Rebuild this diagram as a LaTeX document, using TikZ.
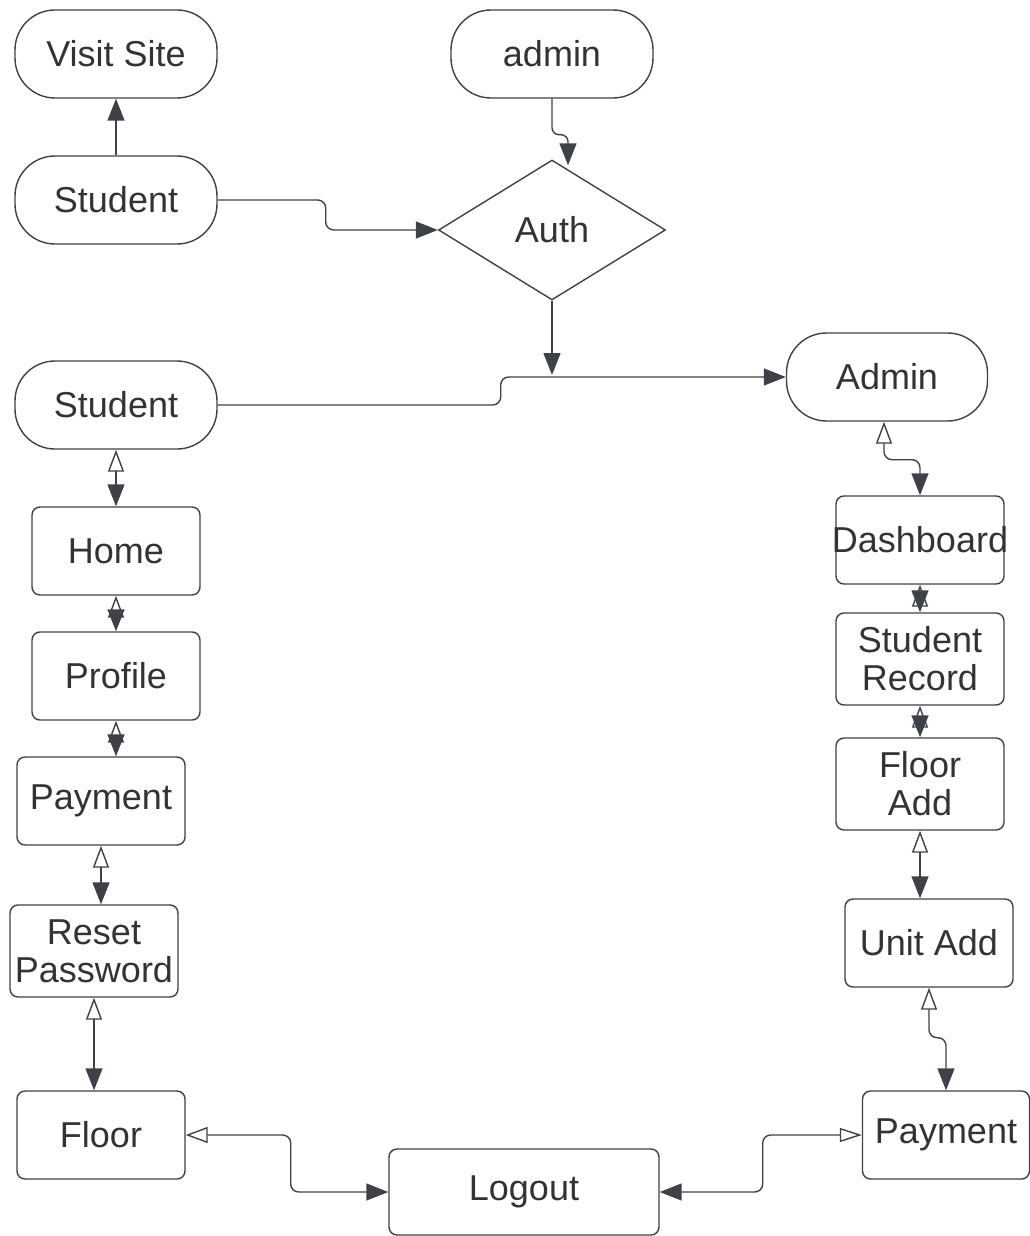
\documentclass[tikz,border=0pt]{standalone}
\usepackage{fontspec}
\setmainfont{Liberation Sans}
\usetikzlibrary{calc,arrows.meta,shapes.geometric}
\tikzset{>=stealth}
\definecolor{linec}{HTML}{3E4147}
\definecolor{textc}{HTML}{333333}
\tikzset{
  pill/.style={draw=linec,line width=1.4pt,rounded corners=40pt,minimum width=202pt,minimum height=88pt,inner sep=0pt,text=textc,font=\fontsize{36}{38}\selectfont},
  box/.style={draw=linec,line width=1.4pt,rounded corners=8pt,minimum width=168pt,minimum height=88pt,inner sep=0pt,align=center,text=textc,font=\fontsize{36}{38}\selectfont},
  conn/.style={draw=linec,line width=1.4pt,-{Triangle[length=22pt,width=17pt]}},
  both/.style={draw=linec,line width=1.4pt,{Triangle[open,length=22pt,width=16pt]}-{Triangle[length=22pt,width=17pt]}},
  back/.style={draw=linec,line width=1.4pt,{Triangle[length=22pt,width=17pt]}-{Triangle[open,length=22pt,width=14pt]}}
}

\begin{document}
\begin{tikzpicture}[x=1pt,y=-1pt]
\useasboundingbox (0,0) rectangle (1030,1236);
\node[pill] (visit) at (116,54) {Visit Site};
\node[pill] (admin) at (552,54) {admin};
\node[pill] (stu1) at (116,200) {Student};
\node[draw=linec,line width=1.4pt,diamond,aspect=1.62,minimum width=227pt,minimum height=140pt,inner sep=0pt,text=textc,font=\fontsize{36}{38}\selectfont] (auth) at (552,230) {Auth};
\node[pill] (stu2) at (116,405) {Student};
\node[pill,minimum width=201pt] (adm) at (887,377) {Admin};
\coordinate (jn) at (552,375);
\node[box] (home) at (116,551) {Home};
\node[box] (prof) at (116,676) {Profile};
\node[box] (pay1) at (101,801) {Payment};
\node[box,minimum height=92pt] (reset) at (94,951) {Reset\\Password};
\node[box] (floor) at (101,1135) {Floor};
\node[box,minimum width=270pt,minimum height=86pt] (logout) at (524,1192) {Logout};
\node[box] (dash) at (920,540) {\makebox[0pt]{Dashboard}};
\node[box,minimum height=92pt] (srec) at (920,659) {Student\\Record};
\node[box,minimum height=92pt] (fadd) at (920,784) {Floor\\Add};
\node[box] (uadd) at (929,943) {Unit Add};
\node[box,minimum width=167pt] (pay2) at (946,1135) {Payment};

\draw[conn] (stu1.north) -- (visit.south);
\draw[conn,rounded corners=7pt] (admin.south) -- ++(0,36) -- ++(16,0) -- ($(auth.north)+(16,6)$);
\draw[conn,rounded corners=8pt] (stu1.east) -- ++(108,0) |- (auth.west);
\draw[conn] (auth.south) -- (jn);
\draw[conn,rounded corners=8pt] (stu2.east) -- ++(283,0) |- (adm.west);

\draw[both] (stu2.south) -- (home.north);
\draw[both] (home.south) -- (prof.north);
\draw[both] (prof.south) -- (prof.south |- pay1.north);
\draw[both] (pay1.south) -- (pay1.south |- reset.north);
\draw[both] (reset.south) -- (reset.south |- floor.north);
\draw[both,rounded corners=8pt] (floor.east) -- ++(105,0) |- (logout.west);

\draw[both,rounded corners=8pt] ($(adm.south)+(-3,0)$) -- ++(0,38) -| (dash.north);
\draw[both] (dash.south) -- (srec.north);
\draw[both] (srec.south) -- (fadd.north);
\draw[both] (fadd.south) -- (fadd.south |- uadd.north);
\draw[both,rounded corners=8pt] (uadd.south) -- ++(0,50) -| (pay2.north);
\draw[back,rounded corners=8pt] (logout.east) -- ++(103,0) |- (pay2.west);
\end{tikzpicture}
\end{document}
